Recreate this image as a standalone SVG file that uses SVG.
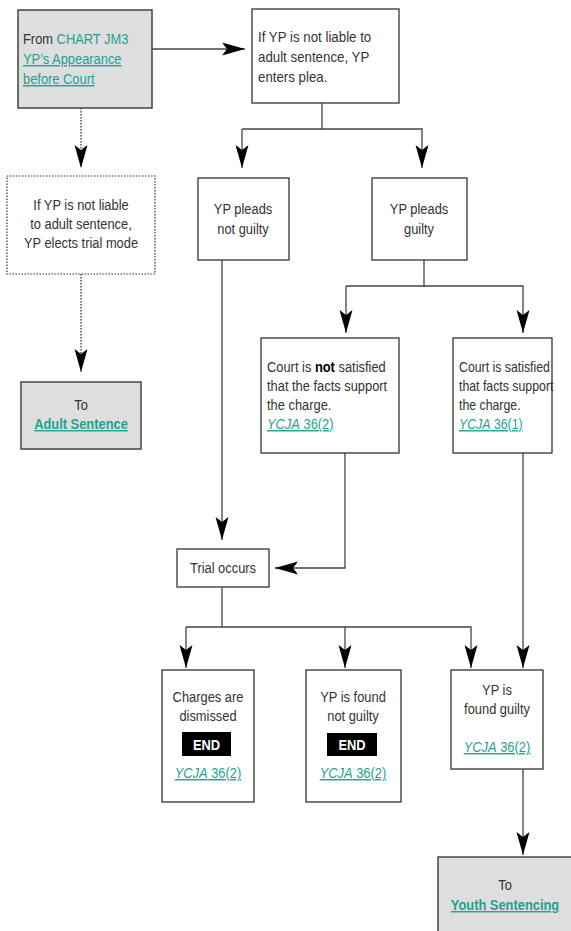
<svg xmlns="http://www.w3.org/2000/svg" width="571" height="931" viewBox="0 0 571 931">
<style>
text{font-family:"Liberation Sans",Arial,sans-serif;font-size:14px;fill:#333}
.c{text-anchor:middle}
.t{fill:#1ba391}
.u{text-decoration:underline}
.b{font-weight:bold}
.box{fill:#fff;stroke:#333;stroke-width:1.3}
.grey{fill:#dedede;stroke:#444;stroke-width:1.5}
.dot{fill:#fff;stroke:#333;stroke-width:1.2;stroke-dasharray:1.5 1.5}
.ln{fill:none;stroke:#444;stroke-width:1.3}
.dl{fill:none;stroke:#333;stroke-width:1.3;stroke-dasharray:1.5 1.5}
.end{fill:#fff;font-weight:bold;font-size:14px}
</style>
<defs>
<marker id="ah" markerUnits="userSpaceOnUse" markerWidth="24" markerHeight="14" refX="23" refY="6.5" orient="auto">
<path d="M0,0 L23,6.5 L0,13 L5,6.5 z" fill="#000"/>
</marker>
</defs>
<g id="connectors">
<line class="ln" x1="152" y1="49" x2="245" y2="49" marker-end="url(#ah)"/>
<line class="dl" x1="81" y1="108" x2="81" y2="168" marker-end="url(#ah)"/>
<line class="dl" x1="81" y1="274" x2="81" y2="372" marker-end="url(#ah)"/>
<polyline class="ln" points="322,103 322,129"/>
<polyline class="ln" points="242,129 422,129 422,168" marker-end="url(#ah)"/>
<line class="ln" x1="242" y1="129" x2="242" y2="168" marker-end="url(#ah)"/>
<polyline class="ln" points="424,260 424,286"/>
<line class="ln" x1="346" y1="286" x2="346" y2="333" marker-end="url(#ah)"/>
<polyline class="ln" points="346,286 523,286 523,333" marker-end="url(#ah)"/>
<line class="ln" x1="222" y1="260" x2="222" y2="540" marker-end="url(#ah)"/>
<polyline class="ln" points="345,453 345,568 275,568" marker-end="url(#ah)"/>
<polyline class="ln" points="222,587 222,627"/>
<polyline class="ln" points="186,627 471,627 471,668" marker-end="url(#ah)"/>
<line class="ln" x1="186" y1="627" x2="186" y2="668" marker-end="url(#ah)"/>
<line class="ln" x1="345" y1="627" x2="345" y2="668" marker-end="url(#ah)"/>
<line class="ln" x1="523" y1="453" x2="523" y2="668" marker-end="url(#ah)"/>
<line class="ln" x1="523" y1="769" x2="523" y2="855" marker-end="url(#ah)"/>
</g>
<g id="n-from">
<rect class="grey" x="18" y="10" width="134" height="98"/>
<text transform="translate(23 44) scale(.92 1)">From <tspan class="t">CHART JM3</tspan></text>
<text transform="translate(23 64) scale(.92 1)" class="t u">YP’s Appearance</text>
<text transform="translate(23 84) scale(.92 1)" class="t u">before Court</text>
</g>
<g id="n-plea">
<rect class="box" x="252" y="9" width="147" height="94"/>
<text transform="translate(258 42) scale(.95 1)">If YP is not liable to</text>
<text transform="translate(258 62) scale(.95 1)">adult sentence, YP</text>
<text transform="translate(258 82) scale(.95 1)">enters plea.</text>
</g>
<g id="n-elect">
<rect class="dot" x="7" y="176" width="148" height="98"/>
<text class="c" transform="translate(81 210) scale(.92 1)">If YP is not liable</text>
<text class="c" transform="translate(81 229) scale(.92 1)">to adult sentence,</text>
<text class="c" transform="translate(81 248) scale(.92 1)">YP elects trial mode</text>
</g>
<g id="n-adult">
<rect class="grey" x="21" y="382" width="120" height="67"/>
<text class="c" transform="translate(81 410) scale(.92 1)">To</text>
<text class="c t u b" transform="translate(81 429) scale(.92 1)">Adult Sentence</text>
</g>
<g id="n-notguilty">
<rect class="box" x="198" y="178" width="91" height="82"/>
<text class="c" transform="translate(243 214) scale(.92 1)">YP pleads</text>
<text class="c" transform="translate(243 234) scale(.92 1)">not guilty</text>
</g>
<g id="n-guilty">
<rect class="box" x="372" y="178" width="95" height="82"/>
<text class="c" transform="translate(419 214) scale(.92 1)">YP pleads</text>
<text class="c" transform="translate(419 234) scale(.92 1)">guilty</text>
</g>
<g id="n-notsatisfied">
<rect class="box" x="261" y="338" width="138" height="115"/>
<text transform="translate(267 372) scale(.92 1)">Court is <tspan class="b" style="fill:#000">not</tspan> satisfied</text>
<text transform="translate(267 391) scale(.92 1)">that the facts support</text>
<text transform="translate(267 410) scale(.92 1)">the charge.</text>
<text transform="translate(267 429) scale(.92 1)" class="t u"><tspan font-style="italic">YCJA</tspan> 36(2)</text>
</g>
<g id="n-satisfied">
<rect class="box" x="453" y="338" width="99" height="115"/>
<text transform="translate(459 372) scale(.88 1)">Court is satisfied</text>
<text transform="translate(459 391) scale(.88 1)">that facts support</text>
<text transform="translate(459 410) scale(.88 1)">the charge.</text>
<text transform="translate(459 429) scale(.88 1)" class="t u"><tspan font-style="italic">YCJA</tspan> 36(1)</text>
</g>
<g id="n-trial">
<rect class="box" x="177" y="549" width="92" height="38"/>
<text class="c" transform="translate(223 573) scale(.92 1)">Trial occurs</text>
</g>
<g id="n-dismissed">
<rect class="box" x="162" y="670" width="92" height="132"/>
<text class="c" transform="translate(208 702) scale(.92 1)">Charges are</text>
<text class="c" transform="translate(208 721) scale(.92 1)">dismissed</text>
<rect x="182" y="732" width="49" height="24" fill="#000"/>
<text class="c end" transform="translate(206.5 750) scale(.92 1)">END</text>
<text class="c t u" transform="translate(208 778) scale(.92 1)"><tspan font-style="italic">YCJA</tspan> 36(2)</text>
</g>
<g id="n-foundnotguilty">
<rect class="box" x="306" y="670" width="95" height="132"/>
<text class="c" transform="translate(353 702) scale(.92 1)">YP is found</text>
<text class="c" transform="translate(353 721) scale(.92 1)">not guilty</text>
<rect x="327" y="733" width="50" height="23" fill="#000"/>
<text class="c end" transform="translate(352 750) scale(.92 1)">END</text>
<text class="c t u" transform="translate(353 778) scale(.92 1)"><tspan font-style="italic">YCJA</tspan> 36(2)</text>
</g>
<g id="n-foundguilty">
<rect class="box" x="451" y="670" width="92" height="99"/>
<text class="c" transform="translate(497 695) scale(.92 1)">YP is</text>
<text class="c" transform="translate(497 714) scale(.92 1)">found guilty</text>
<text class="c t u" transform="translate(497 752) scale(.92 1)"><tspan font-style="italic">YCJA</tspan> 36(2)</text>
</g>
<g id="n-youth">
<rect class="grey" x="438" y="857" width="140" height="80"/>
<text class="c" transform="translate(505 890) scale(.92 1)">To</text>
<text class="c t u b" transform="translate(505 910) scale(.92 1)">Youth Sentencing</text>
</g>
</svg>
